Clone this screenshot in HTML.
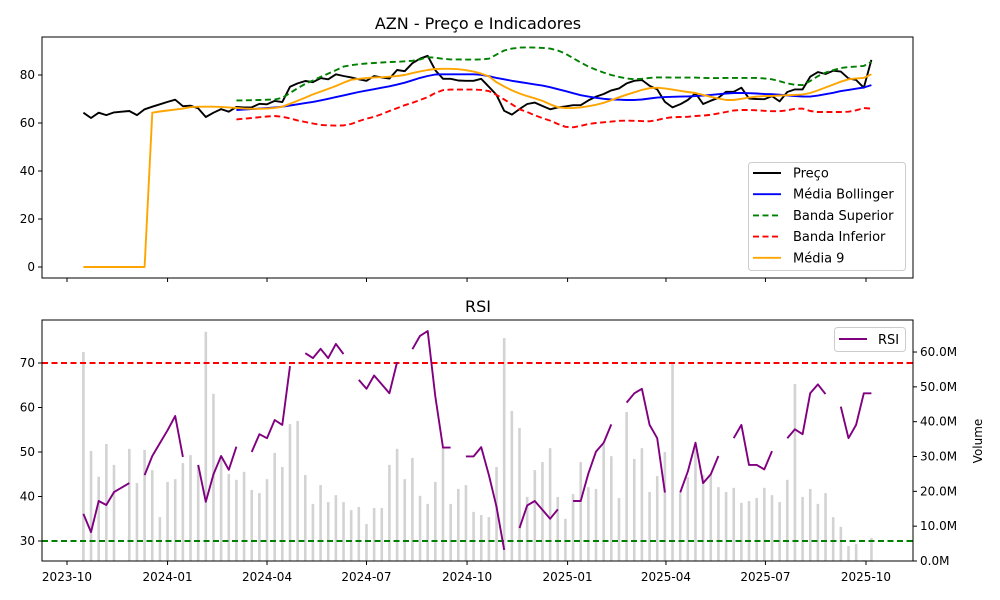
<!DOCTYPE html>
<html><head><meta charset="utf-8">
<style>
body{margin:0;background:#fff;}
svg{display:block;font-family:"DejaVu Sans","Liberation Sans",sans-serif;}
</style></head>
<body>
<svg id="chart" width="1000" height="600" viewBox="0 0 1000 600"></svg>
<script>
const startDate = "2023-10-16";
const N = 104;
const price = [64.3,62.1,64.3,63.3,64.4,64.7,65,63.3,65.7,66.8,67.8,68.8,69.7,67,67.2,66.1,62.5,64.3,65.8,64.7,66.7,66.5,66.5,68,67.8,69.2,68.7,75.1,76.5,77.5,77,78.7,78.2,80.3,79.6,79,78.2,77.6,79.6,79,78.5,82.1,81.6,84.9,86.8,88,82,78.4,78.4,77.7,77.6,77.6,78.4,75.1,71.7,65.1,63.5,65.8,67.9,68.5,67.1,65.7,66.5,66.9,67.4,67.4,69.4,71,72.1,73.6,74.4,76.5,77.6,77.9,75.5,74,68.8,66.5,67.8,69.6,72.4,67.9,69.3,70.5,73,73,74.7,70.2,70,69.9,71.2,69,72.9,74,74,79.3,81.2,80.4,81.8,81.4,78.6,77.9,74.7,86.3];
const bollStart = 20;
const bollMid = [65.4,65.6,65.8,66.0,66.2,66.5,66.8,67.3,67.8,68.3,68.8,69.4,70.1,70.8,71.5,72.2,72.9,73.5,74.1,74.7,75.3,76.0,76.8,77.8,78.8,79.6,80.2,80.3,80.3,80.3,80.3,80.3,80.1,79.5,78.8,78.2,77.6,77.1,76.6,76.1,75.6,74.9,74.1,73.3,72.4,71.6,71.0,70.5,70.1,69.8,69.7,69.6,69.6,69.8,70.2,70.6,70.8,70.9,71.0,71.1,71.2,71.4,71.7,72.0,72.3,72.5,72.5,72.4,72.3,72.1,72.0,71.8,71.5,71.2,71.0,71.0,71.4,72.0,72.6,73.3,73.8,74.3,74.8,75.8];
const bollUpper = [69.4,69.4,69.5,69.6,69.7,69.8,70.5,72.5,74.5,76.3,77.7,79.2,80.6,82.0,83.5,84.1,84.5,84.8,85.0,85.2,85.4,85.5,85.7,85.9,86.5,87.4,87.2,86.7,86.5,86.5,86.4,86.4,86.5,86.8,88.5,90.2,91.0,91.4,91.5,91.4,91.3,91.0,90.2,88.9,87.0,85.2,83.5,82.2,81.0,80.0,79.2,78.6,78.2,78.4,78.8,79.0,79.0,78.9,78.9,78.9,78.9,78.8,78.7,78.7,78.8,78.8,78.8,78.8,78.8,78.6,78.2,77.4,76.5,75.9,75.8,77.5,79.5,81.0,82.0,82.9,83.3,83.5,83.8,85.5];
const bollLower = [61.5,61.8,62.1,62.4,62.7,62.9,62.6,61.9,61.1,60.4,59.8,59.2,59.0,58.9,59.0,59.6,60.8,61.8,62.6,63.7,65.0,66.2,67.4,68.4,69.6,70.8,72.5,73.7,73.9,73.9,73.9,73.9,73.8,73.3,71.7,69.8,67.8,65.7,64.6,63.2,62.0,61.0,59.6,58.4,58.2,58.8,59.6,60.0,60.3,60.6,60.9,61.0,60.9,60.8,60.7,61.2,62.0,62.4,62.5,62.6,62.9,63.1,63.4,64.0,64.6,65.2,65.4,65.4,65.3,65.1,64.9,64.9,65.3,65.9,66.0,65.0,64.6,64.6,64.6,64.6,64.7,65.3,66.2,66.0];
const ma9 = [0,0,0,0,0,0,0,0,0,64.3,64.8,65.2,65.6,66.0,66.6,66.8,66.8,66.8,66.7,66.5,66.3,66.0,65.9,65.9,66.0,66.3,66.8,68.0,69.3,70.6,71.9,73.1,74.2,75.4,76.8,78.0,78.4,78.7,79.0,79.1,79.3,79.6,80.0,80.8,81.5,82.1,82.5,82.6,82.6,82.4,82.0,81.4,80.6,79.4,77.0,75.2,73.6,72.3,71.2,70.3,69.2,67.8,66.6,66.2,66.2,66.5,67.0,67.6,68.4,69.5,70.7,71.8,72.8,73.8,74.5,74.7,74.4,73.9,73.4,72.9,72.5,71.7,70.9,70.2,69.6,69.6,70.1,70.6,71.0,71.2,71.3,71.4,71.6,71.7,71.9,72.5,73.6,74.8,76.0,77.2,78.2,78.6,78.8,80.3];
const rsi = [36.1,32.0,39.0,38.1,41.0,42.0,43.0,null,44.8,49.1,52.0,54.9,58.1,48.9,null,47.1,38.8,45.0,49.1,46.0,51.2,null,50.0,54.0,53.1,57.2,56.1,69.3,null,72.2,71.1,73.2,71.1,74.3,72.0,null,66.2,64.2,67.2,65.2,63.2,70.2,null,73.1,76.1,77.2,62.5,51.0,51.0,null,49.0,49.0,51.1,44.8,37.7,28.0,null,32.9,38.0,39.0,37.0,35.0,37.1,null,39.0,39.0,45.2,50.1,52.1,56.2,null,61.1,63.2,64.2,56.1,53.1,40.9,null,40.9,45.6,52.1,43.0,45.0,49.1,null,53.1,56.1,47.1,47.1,46.1,50.2,null,53.1,55.1,54.0,63.2,65.2,63.0,null,60.2,53.1,56.1,63.2,63.2];
const volumeM = [60.0,31.6,24.2,33.6,27.6,0,32.2,22.4,31.9,26.1,12.6,22.7,23.5,28.1,30.4,27.6,65.8,48.0,30.1,25.0,23.3,25.6,20.4,19.5,23.5,31.0,27.0,39.3,40.2,24.7,16.4,21.8,16.9,18.9,16.9,14.6,15.5,10.6,15.2,15.2,27.6,32.2,23.5,29.6,18.7,16.4,22.7,32.7,16.4,20.7,21.8,14.1,13.2,12.6,27.0,64.0,43.1,38.2,18.4,26.1,28.4,32.4,18.4,12.1,19.2,28.4,21.2,20.7,33.6,30.1,18.1,42.8,29.3,32.4,19.8,24.4,31.3,56.8,19.5,24.1,32.4,24.7,24.7,21.2,19.8,21.0,16.7,17.2,18.1,21.0,18.9,16.9,23.3,50.8,18.4,20.7,16.4,19.5,12.6,9.8,4.3,4.9,0.3,6.6];
const priceTicks = [0,20,40,60,80];
const rsiTicks = [30,40,50,60,70];
const volTicks = [0,10,20,30,40,50,60];
const xTickLabels = ["2023-10","2024-01","2024-04","2024-07","2024-10","2025-01","2025-04","2025-07","2025-10"];
const rsiOverbought = 70, rsiOversold = 30;

const NS="http://www.w3.org/2000/svg";
const svg=document.getElementById('chart');
function el(tag,attrs,parent){const e=document.createElementNS(NS,tag);for(const k in attrs)e.setAttribute(k,attrs[k]);(parent||svg).appendChild(e);return e;}
const L=42,R=913,T1=37,B1=278,T2=320,B2=561;
const day0=Date.UTC(2023,9,1);
function xOfDate(s){const p=s.split('-').map(Number);return 67+(Date.UTC(p[0],p[1]-1,p[2]||1)-day0)/86400000*1.0930;}
const sp=startDate.split('-').map(Number);
const dates=[];for(let i=0;i<N;i++){const d=new Date(Date.UTC(sp[0],sp[1]-1,sp[2])+i*7*86400000);dates.push(d.toISOString().slice(0,10));}
const X=i=>xOfDate(dates[i]);
const yP=v=>267-v*2.4;
const yR=v=>363+(70-v)*4.45;
const yV=v=>561-v*3.483;
const SW=1.9;

let t=el('text',{x:478,y:29,'text-anchor':'middle','font-size':16,fill:'#000'});t.textContent='AZN - Preço e Indicadores';

t=el('text',{x:478,y:312,'text-anchor':'middle','font-size':16,fill:'#000'});t.textContent='RSI';


const gv=el('g',{});
volumeM.forEach((v,i)=>{if(!v)return;const r=el('rect',{x:X(i)-1.3,y:yV(v),width:2.6,height:561-yV(v),fill:'#d3d3d3'},gv);
});

let ln=el('line',{x1:L,x2:R,y1:yR(rsiOverbought),y2:yR(rsiOverbought),stroke:'#ff0000','stroke-width':SW,'stroke-dasharray':'6 3.5'});

ln=el('line',{x1:L,x2:R,y1:yR(rsiOversold),y2:yR(rsiOversold),stroke:'#008000','stroke-width':SW,'stroke-dasharray':'6 3.5'});


function pathFrom(arr,offset,yf){let d='',pen=false;arr.forEach((v,k)=>{const i=k+offset;if(v===null||v===undefined){pen=false;return;}d+=(pen?'L':'M')+X(i).toFixed(1)+' '+yf(v).toFixed(1);pen=true;});return d;}
function series(arr,off,yf,color,dash,name){const p=el('path',{d:pathFrom(arr,off,yf),fill:'none',stroke:color,'stroke-width':SW,'stroke-linejoin':'round'});if(dash)p.setAttribute('stroke-dasharray',dash);
}
series(rsi,0,yR,'#800080',null,'rsi-line');
series(price,0,yP,'#000',null,'price-line');
series(bollMid,bollStart,yP,'#0000ff',null,'bollinger-mid-line');
series(bollUpper,bollStart,yP,'#008000','6 3.5','bollinger-upper-line');
series(bollLower,bollStart,yP,'#ff0000','6 3.5','bollinger-lower-line');
series(ma9,0,yP,'#ffa500',null,'ma9-line');

let f=el('rect',{x:L,y:T1,width:R-L,height:B1-T1,fill:'none',stroke:'#000','stroke-width':1});

f=el('rect',{x:L,y:T2,width:R-L,height:B2-T2,fill:'none',stroke:'#000','stroke-width':1});


priceTicks.forEach(v=>{el('line',{x1:L-4,x2:L,y1:yP(v),y2:yP(v),stroke:'#000'});const tx=el('text',{x:L-7,y:yP(v)+4,'text-anchor':'end','font-size':12});tx.textContent=v;
});
rsiTicks.forEach(v=>{el('line',{x1:L-4,x2:L,y1:yR(v),y2:yR(v),stroke:'#000'});const tx=el('text',{x:L-7,y:yR(v)+4,'text-anchor':'end','font-size':12});tx.textContent=v;
});
volTicks.forEach(v=>{el('line',{x1:R,x2:R+4,y1:yV(v),y2:yV(v),stroke:'#000'});const tx=el('text',{x:R+7,y:yV(v)+4,'font-size':12});tx.textContent=v.toFixed(1)+'M';
});
t=el('text',{x:0,y:0,'font-size':12,'text-anchor':'middle',transform:'translate(982,441) rotate(-90)'});t.textContent='Volume';


xTickLabels.forEach(s=>{const x=xOfDate(s+'-01');el('line',{x1:x,x2:x,y1:B1,y2:B1+4,stroke:'#000'});el('line',{x1:x,x2:x,y1:B2,y2:B2+4,stroke:'#000'});
const tx=el('text',{x:x,y:B2+20,'text-anchor':'middle','font-size':12});tx.textContent=s;
});

const lg=el('g',{});
el('rect',{x:748.5,y:162.5,width:157,height:108,rx:3,fill:'#fff',stroke:'#ccc'},lg);
const items=[['Preço','#000',null],['Média Bollinger','#0000ff',null],['Banda Superior','#008000','6 3.5'],['Banda Inferior','#ff0000','6 3.5'],['Média 9','#ffa500',null]];
items.forEach((it,k)=>{const y=173+k*21.2;const g=el('g',{},lg);
const l=el('line',{x1:753,x2:781,y1:y,y2:y,stroke:it[1],'stroke-width':SW},g);if(it[2])l.setAttribute('stroke-dasharray',it[2]);
const tx=el('text',{x:793,y:y+4.5,'font-size':13},g);tx.textContent=it[0];});
const lg2=el('g',{});
el('rect',{x:834.5,y:327.5,width:71,height:24,rx:3,fill:'#fff',stroke:'#ccc'},lg2);
el('line',{x1:839,x2:867,y1:339,y2:339,stroke:'#800080','stroke-width':SW},lg2);
t=el('text',{x:878,y:344,'font-size':13},lg2);t.textContent='RSI';
</script>
</body></html>
